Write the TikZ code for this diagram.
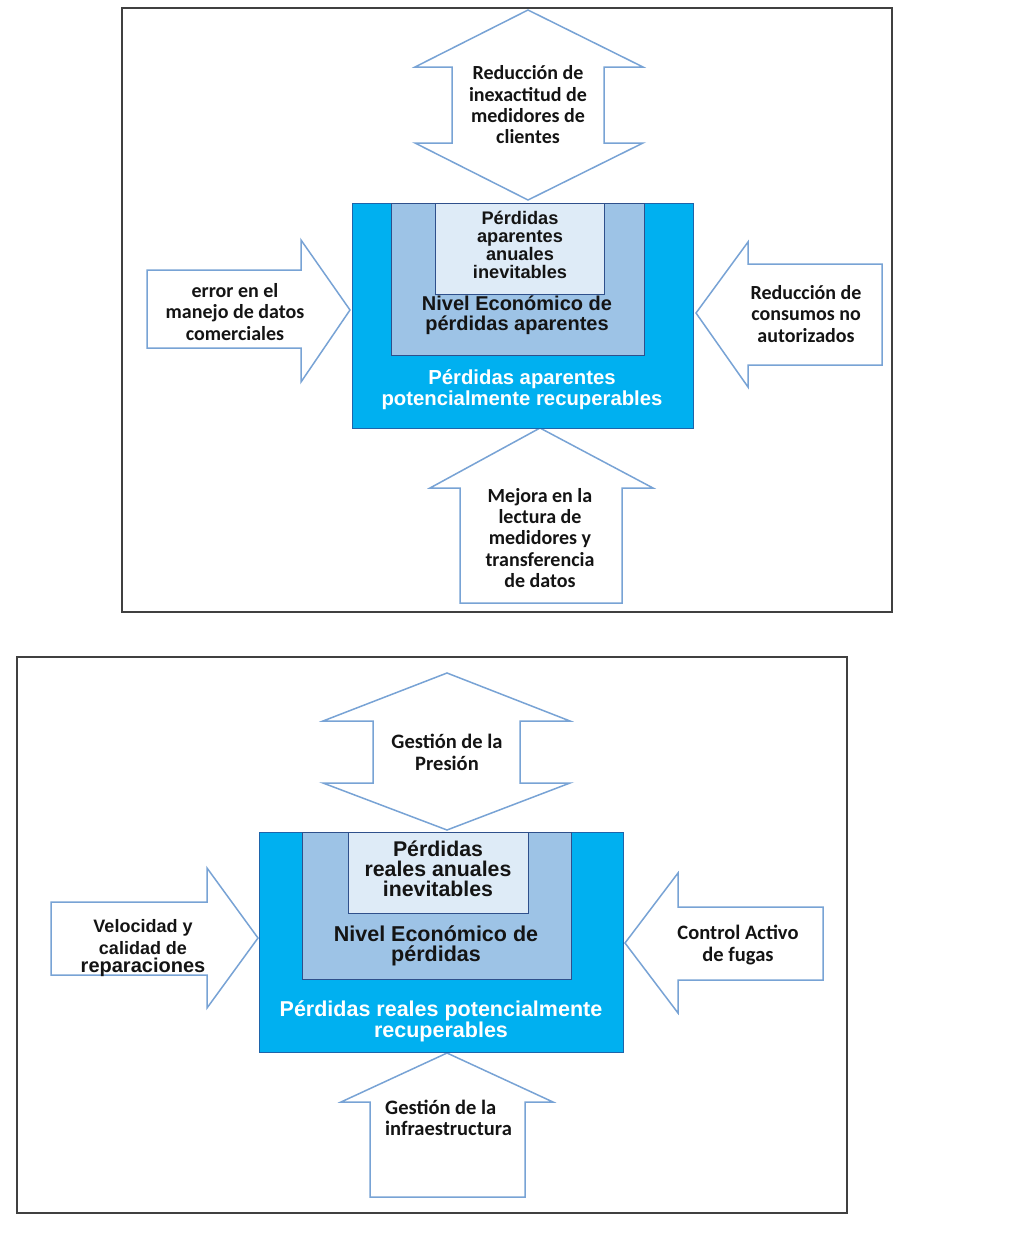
\documentclass[tikz,border=0pt]{standalone}
\usepackage{fontspec}
\setmainfont{Carlito}
\newfontfamily\arialf{Liberation Sans}
\definecolor{cyanbox}{RGB}{0,176,240}
\definecolor{midbox}{RGB}{157,195,230}
\definecolor{innerbox}{RGB}{222,235,247}
\definecolor{arrowblue}{RGB}{120,163,213}
\definecolor{darkborder}{RGB}{47,80,140}
\definecolor{outerborder}{RGB}{30,100,170}
\definecolor{framegray}{RGB}{64,64,64}
\definecolor{txt}{RGB}{20,20,20}
\tikzset{
  frame/.style={draw=framegray, line width=1.5pt},
  blockarrow/.style={draw=arrowblue, line width=1.5pt, fill=white, line join=miter},
  outerbox/.style={fill=cyanbox, draw=outerborder, line width=1pt},
  midboxst/.style={fill=midbox, draw=darkborder, line width=1pt},
  innerboxst/.style={fill=innerbox, draw=darkborder, line width=1pt},
  lbl/.style={font=\bfseries\fontsize{20}{21.3}\selectfont, align=center, inner sep=0pt, text=txt},
  blbl/.style={font=\arialf\bfseries\fontsize{20}{20}\selectfont, align=center, inner sep=0pt, text=txt},
  wlbl/.style={font=\arialf\bfseries\fontsize{20.3}{21}\selectfont, align=center, inner sep=0pt, text=white}
}
\begin{document}
\begin{tikzpicture}[x=1pt,y=-1pt]
\useasboundingbox (0,0) rectangle (1019,1240);
\fill[white] (0,0) rectangle (1019,1240);
% frames
\draw[frame] (122,8) rectangle (892,612);
\draw[frame] (17,657) rectangle (847,1213);

% ---------- top panel ----------
\draw[blockarrow] (528,10) -- (643,67) -- (604,67) -- (604,143) -- (643,143) -- (528,200) -- (415,143) -- (452,143) -- (452,67) -- (415,67) -- cycle;
\draw[blockarrow] (147,270) -- (301,270) -- (301,240) -- (350,310) -- (301,382) -- (301,348) -- (147,348) -- cycle;
\draw[blockarrow] (696,313) -- (748,242) -- (748,264) -- (882,264) -- (882,365) -- (748,365) -- (748,387) -- cycle;
\draw[blockarrow] (540,428) -- (653,488) -- (622,488) -- (622,603) -- (460,603) -- (460,488) -- (430,488) -- cycle;

\draw[outerbox] (352,203) rectangle (693,428);
\draw[midboxst] (391,203) rectangle (644,355);
\draw[innerboxst] (435,203) rectangle (604,294);

\node[lbl] (t1) at (528,105) {Reducción de\\inexactitud de\\medidores de\\clientes};
\node[lbl] (t2) at (235,312) {error en el\\manejo de datos\\comerciales};
\node[lbl] (t3) at (806,314) {Reducción de\\consumos no\\autorizados};
\node[lbl] (t4) at (540,538) {Mejora en la\\lectura de\\medidores y\\transferencia\\de datos};
\node[blbl, font=\arialf\bfseries\fontsize{18.2}{18}\selectfont] (t5) at (520,245) {Pérdidas\\aparentes\\anuales\\inevitables};
\node[blbl] (t6) at (517,315) {Nivel Económico de\\pérdidas aparentes};
\node[wlbl] (t7) at (522,390) {Pérdidas aparentes\\potencialmente recuperables};

% ---------- bottom panel ----------
\draw[blockarrow] (447,673) -- (570,721) -- (520,721) -- (520,783) -- (570,783) -- (447,830) -- (323,783) -- (373,783) -- (373,721) -- (323,721) -- cycle;
\draw[blockarrow] (51,902) -- (207,902) -- (207,868) -- (258,938) -- (207,1008) -- (207,975) -- (51,975) -- cycle;
\draw[blockarrow] (625,943) -- (678,873) -- (678,907) -- (823,907) -- (823,980) -- (678,980) -- (678,1013) -- cycle;
\draw[blockarrow] (447,1053) -- (553,1102) -- (525,1102) -- (525,1197) -- (370,1197) -- (370,1102) -- (341,1102) -- cycle;

\draw[outerbox] (259,832) rectangle (623,1052);
\draw[midboxst] (302,832) rectangle (571,979);
\draw[innerboxst] (348,832) rectangle (528,913);

\node[lbl, font=\bfseries\fontsize{20.5}{22}\selectfont] (b1) at (447,752) {Gestión de la\\Presión};
\node[blbl, font=\arialf\bfseries\fontsize{18}{22}\selectfont] (b2) at (143,948) {Velocidad y\\calidad de\\[-4pt]{\fontsize{20}{20}\selectfont reparaciones}};
\node[lbl, font=\bfseries\fontsize{20.5}{22}\selectfont] (b3) at (738,945) {Control Activo\\de fugas};
\node[lbl, font=\bfseries\fontsize{20.5}{21}\selectfont, align=left, anchor=west] (b4) at (385,1118) {Gestión de la\\infraestructura};
\node[blbl, font=\arialf\bfseries\fontsize{21.3}{20}\selectfont] (b5) at (438,869) {Pérdidas\\reales anuales\\inevitables};
\node[blbl, font=\arialf\bfseries\fontsize{21.5}{20}\selectfont] (b6) at (436,946) {Nivel Económico de\\pérdidas};
\node[wlbl, font=\arialf\bfseries\fontsize{21.5}{21}\selectfont] (b7) at (441,1021) {Pérdidas reales potencialmente\\recuperables};
\end{tikzpicture}
\end{document}
